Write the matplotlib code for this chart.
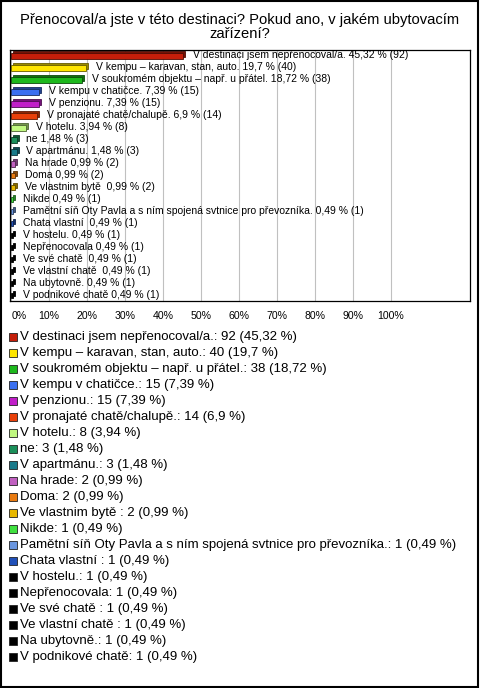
import matplotlib
matplotlib.use('Agg')
import matplotlib.pyplot as plt
import matplotlib.transforms as mtransforms
from matplotlib.patches import Rectangle
import numpy as np

#=====================================================

title = 'Přenocoval/a jste v této destinaci? Pokud ano, v jakém ubytovacím\nzařízení?'

answers = [
    'V destinaci jsem nepřenocoval/a.',
    'V kempu – karavan, stan, auto.',
    'V soukromém objektu – např. u přátel.',
    'V kempu v chatičce.',
    'V penzionu.',
    'V pronajaté chatě/chalupě.',
    'V hotelu.',
    'ne',
    'V apartmánu.',
    'Na hrade',
    'Doma',
    'Ve vlastnim bytě ',
    'Nikde',
    'Pamětní síň Oty Pavla a s ním spojená svtnice pro převozníka.',
    'Chata vlastní ',
    'V hostelu.',
    'Nepřenocovala',
    'Ve své chatě ',
    'Ve vlastní chatě ',
    'Na ubytovně.',
    'V podnikové chatě',
]
counts = [92, 40, 38, 15, 15, 14, 8, 3, 3, 2, 2, 2, 1, 1, 1, 1, 1, 1, 1, 1, 1]
percents = [45.32, 19.7, 18.72, 7.39, 7.39, 6.9, 3.94, 1.48, 1.48, 0.99, 0.99, 0.99,
            0.49, 0.49, 0.49, 0.49, 0.49, 0.49, 0.49, 0.49, 0.49]
colors = ['#c41e0a', '#ffe600', '#1db81d', '#3a6ff0', '#c01ec8', '#e8400a', '#c0f880',
          '#1a8f5a', '#1a7a8a', '#c060c0', '#e87a10', '#e8b800', '#40e040', '#6a96e0',
          '#2050b8', '#000000', '#000000', '#000000', '#000000', '#000000', '#000000']

x_ticks = [0, 10, 20, 30, 40, 50, 60, 70, 80, 90, 100]

#=====================================================

def fmt(v):
    return f'{v:g}'.replace('.', ',')

def darker(c, f=0.6):
    rgb = np.array(matplotlib.colors.to_rgb(c))
    return tuple(rgb * f)

def main():
    plt.rcParams['font.family'] = ['Liberation Sans', 'DejaVu Sans']

    fig = plt.figure(figsize=(4.8, 6.88), dpi=100)
    W, H = 480, 688

    fig.text(0.5, 1 - 27 / H, title, ha='center', va='center', fontsize=10.6,
             linespacing=0.92)

    # plot area
    left, right, top, bottom = 10, 470, 50, 301
    ax = fig.add_axes([left / W, 1 - bottom / H, (right - left) / W, (bottom - top) / H])
    ax.set_xlim(-0.3, 120.8)
    ax.set_ylim(len(answers) - 0.55, -0.5)

    y = np.arange(len(answers))

    # pseudo 3d depth
    shift = mtransforms.ScaledTranslation(2 / 100, 2 / 100, fig.dpi_scale_trans)
    ax.barh(y, percents, height=0.45, left=0, color=[darker(c) for c in colors],
            edgecolor=[darker(c, 0.4) for c in colors], linewidth=0.6,
            transform=ax.transData + shift, zorder=2)
    ax.barh(y, percents, height=0.45, left=0, color=colors,
            edgecolor=[darker(c, 0.4) for c in colors], linewidth=0.6, zorder=3)

    for yi, (a, p, c) in enumerate(zip(answers, percents, counts)):
        ax.annotate(f'{a} {fmt(p)} % ({c})', (p, yi), xytext=(7, 0.5),
                    textcoords='offset points', va='center', ha='left', fontsize=7.5,
                    zorder=4)

    ax.set_xticks(x_ticks)
    ax.set_xticklabels([f'{t}%' for t in x_ticks], fontsize=7.6)
    ax.get_xticklabels()[0].set_ha('left')
    ax.tick_params(axis='x', length=0, pad=7)
    ax.set_yticks([])
    ax.grid(axis='x', color='#c0c0c0', linewidth=0.8, zorder=0)
    ax.set_axisbelow(True)
    for s in ax.spines.values():
        s.set_linewidth(0.9)

    # legend
    y0, step = 337, 16.0
    for i, (a, p, c, col) in enumerate(zip(answers, percents, counts, colors)):
        yc = y0 + i * step
        fig.patches.append(Rectangle((9 / W, 1 - (yc + 4) / H), 8 / W, 8 / H,
                                     facecolor=col, edgecolor='#222222', linewidth=0.6,
                                     transform=fig.transFigure, figure=fig))
        fig.text(20 / W, 1 - yc / H, f'{a}: {c} ({fmt(p)} %)', ha='left', va='center',
                 fontsize=9.5)

    # outer border
    fig.patches.append(Rectangle((0.002, 0.002), 0.994, 0.996, fill=False,
                                 edgecolor='black', linewidth=1.5,
                                 transform=fig.transFigure, figure=fig))

    fig.savefig('out.png', dpi=100)

#=====================================================

if __name__ == '__main__':
    main()
